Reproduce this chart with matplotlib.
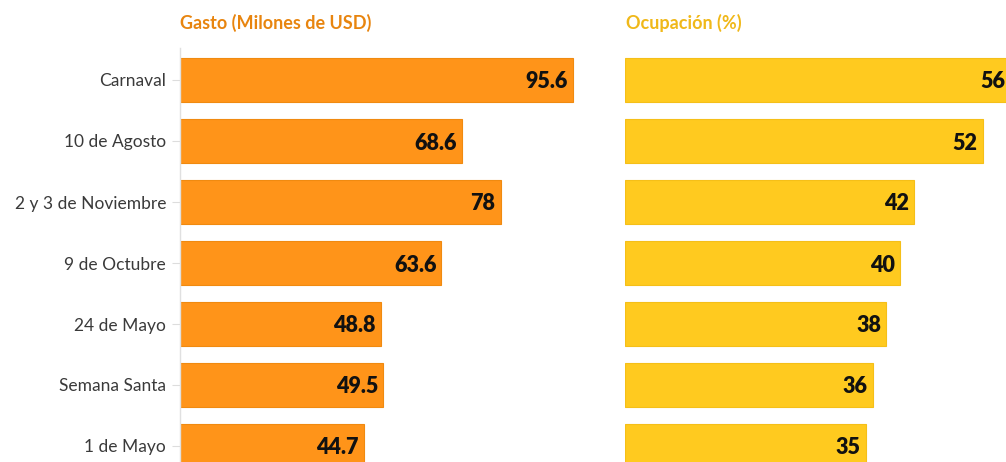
import matplotlib.pyplot as plt
from matplotlib.transforms import offset_copy

# data
categories = ["Carnaval", "10 de Agosto", "2 y 3 de Noviembre", "9 de Octubre",
              "24 de Mayo", "Semana Santa", "1 de Mayo"]
gasto = [95.6, 68.6, 78, 63.6, 48.8, 49.5, 44.7]
ocupacion = [56, 52, 42, 40, 38, 36, 35]
gasto_labels = ["95.6", "68.6", "78", "63.6", "48.8", "49.5", "44.7"]
ocupacion_labels = ["56", "52", "42", "40", "38", "36", "35"]

plt.rcParams['font.family'] = ['Lato', 'DejaVu Sans']

W, H = 1006, 462
fig = plt.figure(figsize=(W / 100, H / 100), dpi=100)

top_px = 48
ax_h = (H - top_px) / H
ylim = ((H - 80) / 61, (top_px - 80) / 61)

ax1 = fig.add_axes([180 / W, 0, 411 / W, ax_h])
ax2 = fig.add_axes([625 / W, 0, 381 / W, ax_h])

pos = list(range(len(categories)))

ax1.barh(pos, gasto, height=0.72, color="#FF9419", edgecolor="#F08A10", linewidth=0.8)
ax1.set_xlim(0, 100)
ax2.barh(pos, ocupacion, height=0.72, color="#FFCA1F", edgecolor="#F5BF18", linewidth=0.8)
ax2.set_xlim(0, 381 / 6.88)

for ax in (ax1, ax2):
    ax.set_ylim(*ylim)
    for s in ["top", "right", "bottom"]:
        ax.spines[s].set_visible(False)
    ax.set_xticks([])

ax1.spines["left"].set_color("#e0e0e0")
ax1.spines["left"].set_linewidth(1)
ax1.set_yticks(pos)
ax1.set_yticklabels(categories, fontsize=12.5, color="#3a3a3a")
ax1.tick_params(axis="y", length=6, color="#dddddd", pad=4)

ax2.spines["left"].set_visible(False)
ax2.set_yticks([])

for ax, vals, labs in ((ax1, gasto, gasto_labels), (ax2, ocupacion, ocupacion_labels)):
    tr = offset_copy(ax.transData, fig=fig, x=-5, y=0, units="dots")
    for p, v, t in zip(pos, vals, labs):
        ax.text(v, p, t, transform=tr, ha="right", va="center_baseline",
                fontsize=15.5, fontweight="heavy", color="#111111", clip_on=False)

fig.text(180 / W, 1 - 23 / H, "Gasto (Milones de USD)", fontsize=13, fontweight="bold",
         color="#E8850F", va="center", ha="left")
fig.text(626 / W, 1 - 23 / H, "Ocupación (%)", fontsize=13, fontweight="bold",
         color="#F0B819", va="center", ha="left")

fig.savefig("out.png", dpi=100)
